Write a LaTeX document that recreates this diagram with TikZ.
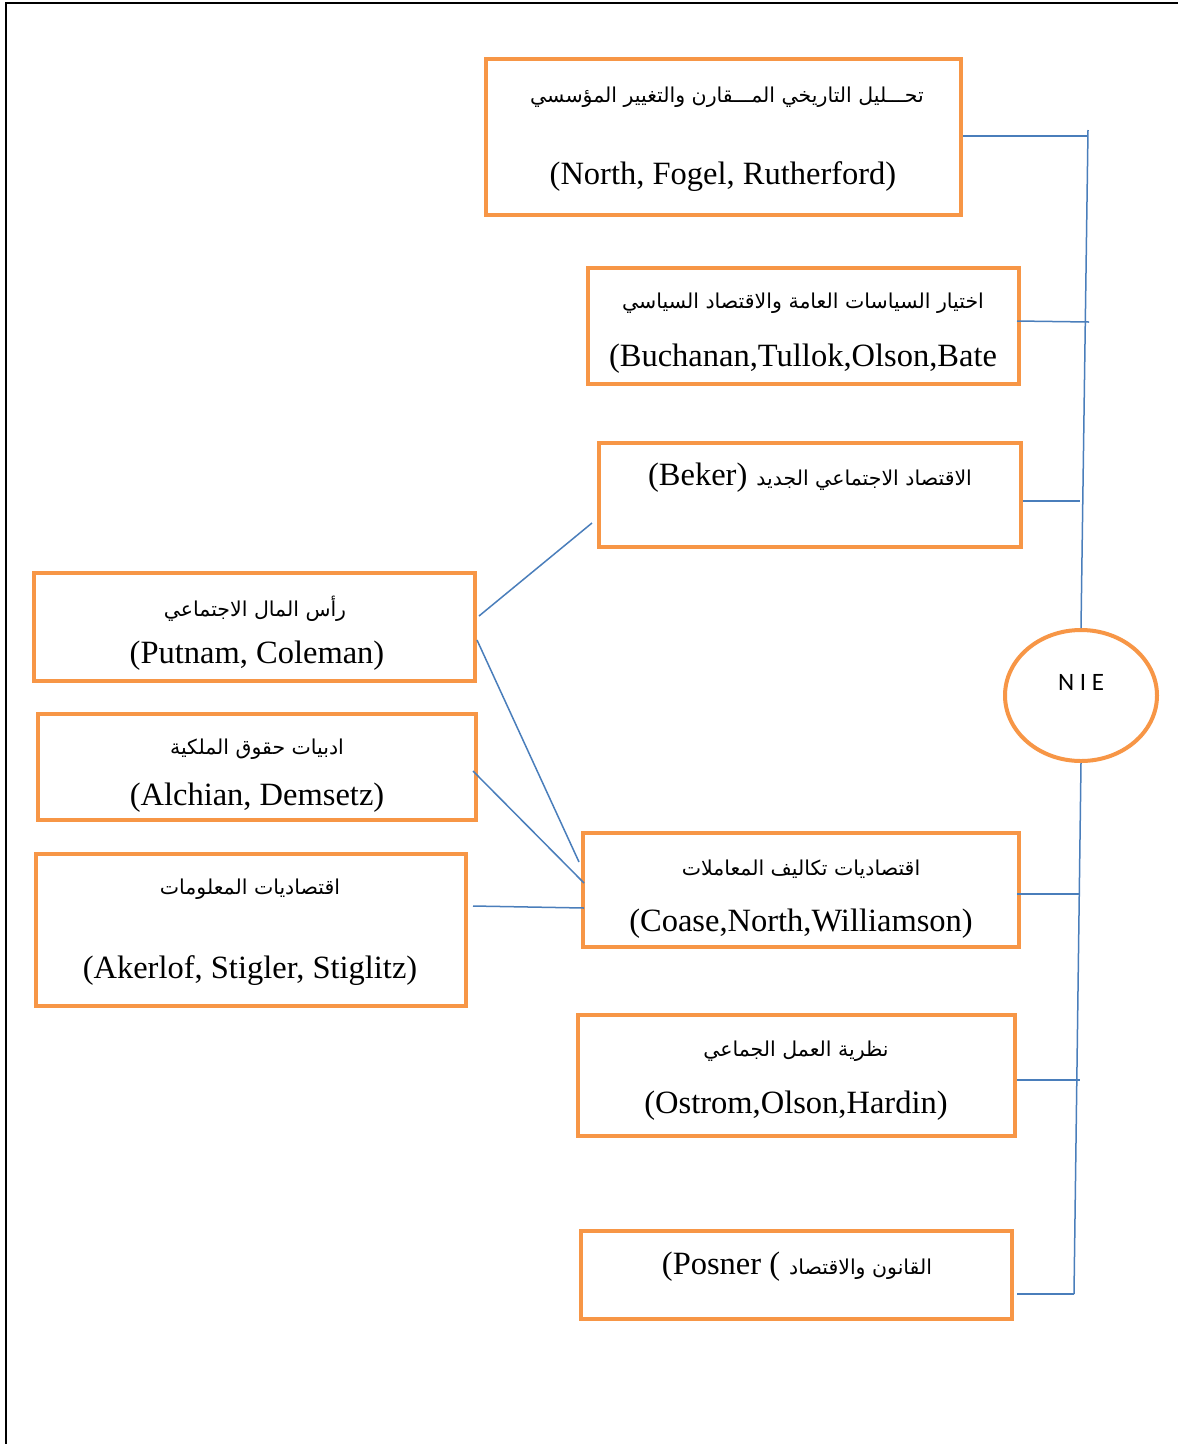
\documentclass[tikz,border=0pt]{standalone}
\usepackage{fontspec}
\setmainfont{Liberation Serif}
\newfontfamily\arabicfont[Script=Arabic]{DejaVu Sans}
\newfontfamily\nieFont{Carlito}
\TeXXeTstate=1
\usetikzlibrary{shapes.geometric}
\definecolor{boxorange}{HTML}{F79646}
\definecolor{linkblue}{HTML}{4A7EBB}
\tikzset{
  box/.style={draw=boxorange, line width=4pt, rectangle, inner sep=0pt, fill=white},
  lat/.style={inner sep=0pt, yshift=-3pt, font=\fontsize{32.5}{38}\selectfont},
  arb/.style={inner sep=0pt, font=\arabicfont\fontsize{20.5}{26}\selectfont},
  link/.style={draw=linkblue, line width=1.5pt},
}
\begin{document}
\begin{tikzpicture}[x=1pt,y=-1pt]
\useasboundingbox (0,0) rectangle (1178,1444);
\fill[white] (0,0) rectangle (1178,1444);
% page frame
\coordinate (fa) at (6,1444);
\coordinate (fb) at (6,3);
\coordinate (fc) at (1178,3);
\draw[black, line width=1.2pt] (fa) -- (fb) -- (fc);

% boxes
\node[box, minimum width=475pt, minimum height=156pt] (b1) at (723.5,137) {};
\node[box, minimum width=431pt, minimum height=116pt] (b2) at (803.5,326) {};
\node[box, minimum width=422pt, minimum height=104pt] (b3) at (810,495) {};
\node[box, minimum width=441pt, minimum height=108pt] (b4) at (254.5,627) {};
\node[box, minimum width=438pt, minimum height=106pt] (b5) at (257,767) {};
\node[box, minimum width=430pt, minimum height=152pt] (b6) at (251,930) {};
\node[box, minimum width=436pt, minimum height=114pt] (b7) at (801,890) {};
\node[box, minimum width=437pt, minimum height=121pt] (b8) at (796.5,1075.5) {};
\node[box, minimum width=431pt, minimum height=88pt] (b9) at (796.5,1275) {};
\node[ellipse, draw=boxorange, line width=4pt, minimum width=152pt, minimum height=131pt, inner sep=0pt] (nie) at (1081,695.5) {};
\node[inner sep=0pt, font=\nieFont\fontsize{25}{30}\selectfont] (nietext) at (1081,682) {N I E};

% texts
\node[arb] (t1a) at (727,97) {\beginR تحـــليل التاريخي المـــقارن والتغيير المؤسسي\endR};
\node[lat] (t1b) at (723,174) {(North, Fogel, Rutherford)};
\node[arb] (t2a) at (803,303) {\beginR اختيار السياسات العامة والاقتصاد السياسي\endR};
\node[lat] (t2b) at (803,356) {(Buchanan,Tullok,Olson,Bate};
\node[inner sep=0pt] (t3) at (810,478) {{\fontsize{32.5}{38}\selectfont (Beker)}\hspace{9pt}{\arabicfont\fontsize{20.5}{26}\selectfont\beginR الاقتصاد الاجتماعي الجديد\endR}};
\node[arb] (t4a) at (255,609) {\beginR رأس المال الاجتماعي\endR};
\node[lat] (t4b) at (257,653) {(Putnam, Coleman)};
\node[arb] (t5a) at (257,749) {\beginR ادبيات حقوق الملكية\endR};
\node[lat] (t5b) at (257,795) {(Alchian, Demsetz)};
\node[arb] (t6a) at (250,889) {\beginR اقتصاديات المعلومات\endR};
\node[lat] (t6b) at (250,968) {(Akerlof, Stigler, Stiglitz)};
\node[arb] (t7a) at (801,869) {\beginR اقتصاديات تكاليف المعاملات\endR};
\node[lat] (t7b) at (801,921) {(Coase,North,Williamson)};
\node[arb] (t8a) at (796,1051) {\beginR نظرية العمل الجماعي\endR};
\node[lat] (t8b) at (796,1103) {(Ostrom,Olson,Hardin)};
\node[inner sep=0pt] (t9) at (797,1267) {{\fontsize{32.5}{38}\selectfont (Posner (}\hspace{9pt}{\arabicfont\fontsize{20.5}{26}\selectfont\beginR القانون والاقتصاد\endR}};

% trunk coordinates
\coordinate (tr1) at (1088,130);
\coordinate (tr1b) at (1088,136);
\coordinate (tr2) at (1089,322);
\coordinate (tr3) at (1080,501);
\coordinate (tr7) at (1079,894);
\coordinate (tr8) at (1080,1080);
\coordinate (tr9) at (1074,1294);

% trunk lines
\draw[link] (tr1) -- (nie.north);
\draw[link] (nie.south) -- (tr9);
% branches to trunk
\draw[link] ([yshift=1pt]b1.east) -- (tr1b);
\draw[link] ([xshift=-4pt,yshift=5pt]b2.east) -- (tr2);
\draw[link] ([yshift=-6pt]b3.east) -- (tr3);
\draw[link] ([xshift=-4pt,yshift=-4pt]b7.east) -- (tr7);
\draw[link] ([yshift=-4.5pt]b8.east) -- (tr8);
\draw[link] ([xshift=3pt,yshift=-19pt]b9.east) -- (tr9);
% left boxes to center boxes
\draw[link] ([xshift=2pt,yshift=11pt]b4.east) -- ([xshift=-5pt,yshift=-28pt]b3.west);
\draw[link] ([yshift=-13pt]b4.east) -- ([xshift=-2pt,yshift=28pt]b7.west);
\draw[link] ([xshift=-5pt,yshift=-4pt]b5.east) -- ([xshift=3pt,yshift=7pt]b7.west);
\draw[link] ([xshift=5pt,yshift=24pt]b6.east) -- ([xshift=3pt,yshift=-18pt]b7.west);
\end{tikzpicture}
\end{document}
